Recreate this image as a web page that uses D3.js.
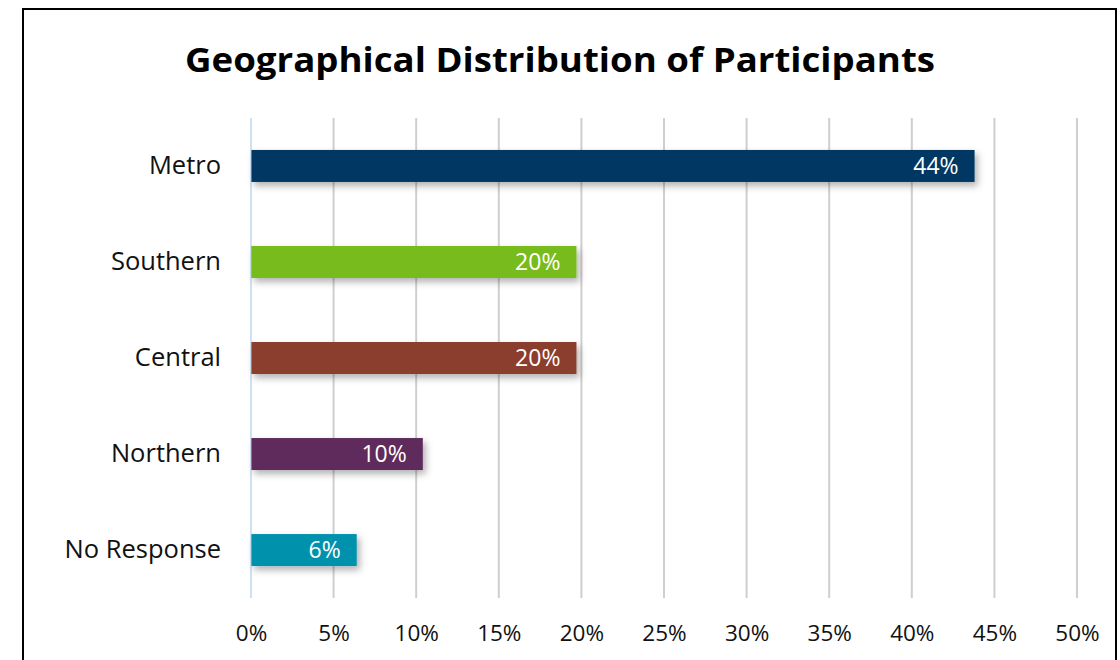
<!DOCTYPE html>
<html>
<head>
<meta charset="utf-8">
<script src="https://cdn.jsdelivr.net/npm/d3@7"></script>
<style>
  body { margin: 0; background: #fff; }
  svg { display: block; font-family: "Open Sans", "Noto Sans", sans-serif; }
</style>
</head>
<body>
<div id="chart"></div>
<script>
const categories = ["Metro", "Southern", "Central", "Northern", "No Response"];
const values = [0.438, 0.197, 0.197, 0.104, 0.064];
const barColors = ["#003863", "#77bc1f", "#8b3e2f", "#5f2a5c", "#0092ad"];
const tickValues = [0, 0.05, 0.10, 0.15, 0.20, 0.25, 0.30, 0.35, 0.40, 0.45, 0.50];
const title = "Geographical Distribution of Participants";

const W = 1120, H = 660;
const margin = {top: 118, right: 43, bottom: 62, left: 251};
const width = W - margin.left - margin.right,
      height = H - margin.top - margin.bottom;

const svg = d3.select("#chart").append("svg")
    .attr("width", W)
    .attr("height", H);

// drop shadow for bars
const defs = svg.append("defs");
defs.append("filter")
    .attr("id", "shadow")
    .attr("x", "-10%").attr("y", "-30%")
    .attr("width", "130%").attr("height", "190%")
  .append("feDropShadow")
    .attr("dx", 3).attr("dy", 4)
    .attr("stdDeviation", 3.5)
    .attr("flood-color", "#000")
    .attr("flood-opacity", 0.3);

// outer border
svg.append("rect")
    .attr("x", 23).attr("y", 9)
    .attr("width", 1093).attr("height", 680)
    .attr("fill", "none")
    .attr("stroke", "#000")
    .attr("stroke-width", 2);

svg.append("text")
    .attr("x", 560).attr("y", 72)
    .attr("text-anchor", "middle")
    .attr("font-size", 34)
    .attr("font-weight", "bold")
    .attr("fill", "#000")
    .attr("textLength", 750)
    .attr("lengthAdjust", "spacingAndGlyphs")
    .text(title);

const g = svg.append("g")
    .attr("transform", `translate(${margin.left},${margin.top})`);

const x = d3.scaleLinear().domain([0, 0.5]).range([0, width]);
const y = d3.scaleBand().domain(categories).range([0, height]).paddingInner(0.667).paddingOuter(0.333);

// vertical gridlines
g.selectAll(".grid")
    .data(tickValues.slice(1))
    .enter().append("line")
    .attr("x1", d => x(d)).attr("x2", d => x(d))
    .attr("y1", 0).attr("y2", height)
    .attr("stroke", "#d0cfcc")
    .attr("stroke-width", 2);

// x axis labels
const xAxis = g.append("g")
    .attr("transform", `translate(0,${height})`)
    .call(d3.axisBottom(x).tickValues(tickValues).tickFormat(d3.format(".0%")).tickSize(0).tickPadding(27));
xAxis.select(".domain").remove();
xAxis.selectAll("text")
    .attr("font-size", 22.5)
    .attr("font-family", "Open Sans, Noto Sans, sans-serif")
    .attr("fill", "#111");

// y axis labels
const yAxis = g.append("g")
    .call(d3.axisLeft(y).tickSize(0).tickPadding(30));
yAxis.select(".domain").remove();
yAxis.selectAll("text")
    .attr("font-size", 25.5)
    .attr("font-family", "Open Sans, Noto Sans, sans-serif")
    .attr("fill", "#111");

// bars
g.selectAll(".bar")
    .data(categories)
    .enter().append("rect")
    .attr("x", 0)
    .attr("y", d => y(d))
    .attr("width", (d, i) => x(values[i]))
    .attr("height", y.bandwidth())
    .attr("fill", (d, i) => barColors[i])
    .attr("filter", "url(#shadow)");

// zero line
g.append("line")
    .attr("x1", 0).attr("x2", 0)
    .attr("y1", 0).attr("y2", height)
    .attr("stroke", "#9dc3e6")
    .attr("stroke-width", 1);

// value labels
g.selectAll(".label")
    .data(categories)
    .enter().append("text")
    .attr("x", (d, i) => x(values[i]) - 16)
    .attr("y", d => y(d) + y.bandwidth() / 2)
    .attr("dy", "0.36em")
    .attr("text-anchor", "end")
    .attr("font-size", 23)
    .attr("fill", "#fff")
    .text((d, i) => d3.format(".0%")(values[i]));
</script>
</body>
</html>
